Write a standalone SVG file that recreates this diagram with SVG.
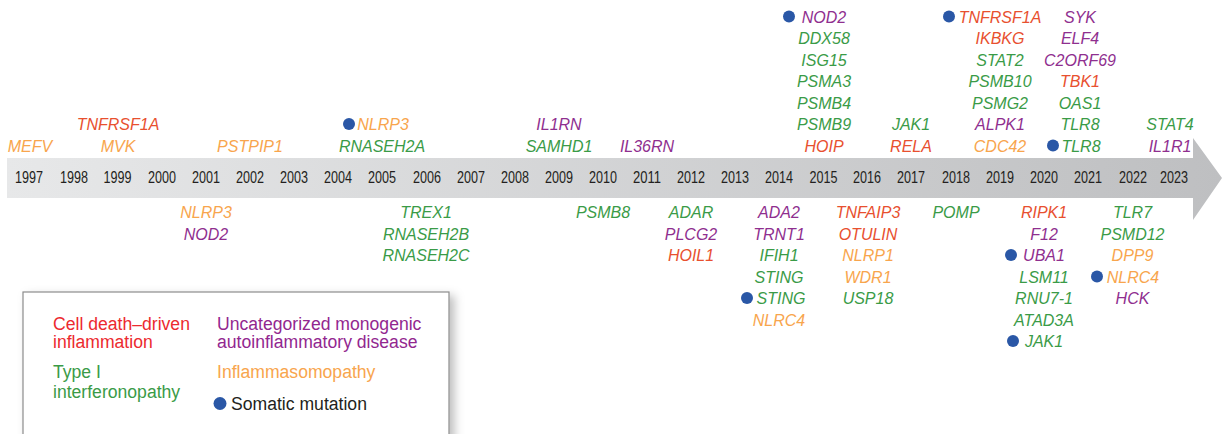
<svg xmlns="http://www.w3.org/2000/svg" width="1225" height="434" viewBox="0 0 1225 434">
<defs>
<linearGradient id="band" x1="0" y1="0" x2="1" y2="0">
<stop offset="0" stop-color="#e7e8e9"/>
<stop offset="1" stop-color="#bebfc1"/>
</linearGradient>
<filter id="shadow" x="-10%" y="-10%" width="130%" height="140%">
<feDropShadow dx="5" dy="4" stdDeviation="5" flood-color="#000" flood-opacity="0.25"/>
</filter>
<style>
.yr{font-family:"Liberation Sans",Arial,sans-serif;font-size:16.5px;fill:#231f20;text-anchor:middle}
.g{font-family:"Liberation Sans",Arial,sans-serif;font-size:16px;font-style:italic;text-anchor:middle}
.R{fill:#e8502f}.O{fill:#f8a54d}.G{fill:#3a9b47}.P{fill:#8f2f8f}
.dot{fill:#2a57a6}
.lg{font-family:"Liberation Sans",Arial,sans-serif;font-size:17.6px}
</style>
</defs>
<rect width="1225" height="434" fill="#ffffff"/>
<g id="timeline-arrow">
<path d="M7,158 H1193 V138 L1222,178 L1193,220 V198 H7 Z" fill="url(#band)"/>
</g>
<g id="years">
<text class="yr" x="29" y="183" textLength="28" lengthAdjust="spacingAndGlyphs">1997</text>
<text class="yr" x="74" y="183" textLength="28" lengthAdjust="spacingAndGlyphs">1998</text>
<text class="yr" x="117.5" y="183" textLength="28" lengthAdjust="spacingAndGlyphs">1999</text>
<text class="yr" x="162" y="183" textLength="28" lengthAdjust="spacingAndGlyphs">2000</text>
<text class="yr" x="206" y="183" textLength="28" lengthAdjust="spacingAndGlyphs">2001</text>
<text class="yr" x="250" y="183" textLength="28" lengthAdjust="spacingAndGlyphs">2002</text>
<text class="yr" x="294" y="183" textLength="28" lengthAdjust="spacingAndGlyphs">2003</text>
<text class="yr" x="338" y="183" textLength="28" lengthAdjust="spacingAndGlyphs">2004</text>
<text class="yr" x="382" y="183" textLength="28" lengthAdjust="spacingAndGlyphs">2005</text>
<text class="yr" x="427" y="183" textLength="28" lengthAdjust="spacingAndGlyphs">2006</text>
<text class="yr" x="471" y="183" textLength="28" lengthAdjust="spacingAndGlyphs">2007</text>
<text class="yr" x="515" y="183" textLength="28" lengthAdjust="spacingAndGlyphs">2008</text>
<text class="yr" x="559" y="183" textLength="28" lengthAdjust="spacingAndGlyphs">2009</text>
<text class="yr" x="603" y="183" textLength="28" lengthAdjust="spacingAndGlyphs">2010</text>
<text class="yr" x="647" y="183" textLength="28" lengthAdjust="spacingAndGlyphs">2011</text>
<text class="yr" x="691" y="183" textLength="28" lengthAdjust="spacingAndGlyphs">2012</text>
<text class="yr" x="735" y="183" textLength="28" lengthAdjust="spacingAndGlyphs">2013</text>
<text class="yr" x="779" y="183" textLength="28" lengthAdjust="spacingAndGlyphs">2014</text>
<text class="yr" x="823.5" y="183" textLength="28" lengthAdjust="spacingAndGlyphs">2015</text>
<text class="yr" x="867" y="183" textLength="28" lengthAdjust="spacingAndGlyphs">2016</text>
<text class="yr" x="911" y="183" textLength="28" lengthAdjust="spacingAndGlyphs">2017</text>
<text class="yr" x="956" y="183" textLength="28" lengthAdjust="spacingAndGlyphs">2018</text>
<text class="yr" x="1000" y="183" textLength="28" lengthAdjust="spacingAndGlyphs">2019</text>
<text class="yr" x="1044" y="183" textLength="28" lengthAdjust="spacingAndGlyphs">2020</text>
<text class="yr" x="1088" y="183" textLength="28" lengthAdjust="spacingAndGlyphs">2021</text>
<text class="yr" x="1133" y="183" textLength="28" lengthAdjust="spacingAndGlyphs">2022</text>
<text class="yr" x="1174" y="183" textLength="28" lengthAdjust="spacingAndGlyphs">2023</text>
</g>
<g id="connectors"/>
<!-- Upper columns -->
<g id="up-1997">
<text class="g O" x="30" y="151.5">MEFV</text>
</g>
<g id="up-1999">
<text class="g R" x="118" y="130">TNFRSF1A</text>
<text class="g O" x="118" y="151.5">MVK</text>
</g>
<g id="up-2002">
<text class="g O" x="250" y="151.5">PSTPIP1</text>
</g>
<g id="up-2005">
<circle class="dot" cx="349" cy="124" r="6"/>
<text class="g O" x="383" y="130">NLRP3</text>
<text class="g G" x="382" y="151.5">RNASEH2A</text>
</g>
<g id="up-2009">
<text class="g P" x="559" y="130">IL1RN</text>
<text class="g G" x="559" y="151.5">SAMHD1</text>
</g>
<g id="up-2011">
<text class="g P" x="647" y="151.5">IL36RN</text>
</g>
<g id="up-2015">
<circle class="dot" cx="789" cy="16.5" r="6"/>
<text class="g P" x="824" y="22.5">NOD2</text>
<text class="g G" x="824" y="44">DDX58</text>
<text class="g G" x="824" y="65.5">ISG15</text>
<text class="g G" x="824" y="87">PSMA3</text>
<text class="g G" x="824" y="108.5">PSMB4</text>
<text class="g G" x="824" y="130">PSMB9</text>
<text class="g R" x="824" y="151.5">HOIP</text>
</g>
<g id="up-2017">
<text class="g G" x="911" y="130">JAK1</text>
<text class="g R" x="911" y="151.5">RELA</text>
</g>
<g id="up-2019">
<circle class="dot" cx="949" cy="16.5" r="6"/>
<text class="g R" x="1000" y="22.5">TNFRSF1A</text>
<text class="g R" x="1000" y="44">IKBKG</text>
<text class="g G" x="1000" y="65.5">STAT2</text>
<text class="g G" x="1000" y="87">PSMB10</text>
<text class="g G" x="1000" y="108.5">PSMG2</text>
<text class="g P" x="1000" y="130">ALPK1</text>
<text class="g O" x="1000" y="151.5">CDC42</text>
</g>
<g id="up-2021">
<text class="g P" x="1080" y="22.5">SYK</text>
<text class="g P" x="1080" y="44">ELF4</text>
<text class="g P" x="1080" y="65.5">C2ORF69</text>
<text class="g R" x="1080" y="87">TBK1</text>
<text class="g G" x="1080" y="108.5">OAS1</text>
<text class="g G" x="1080" y="130">TLR8</text>
<circle class="dot" cx="1053" cy="145.5" r="6"/>
<text class="g G" x="1081" y="151.5">TLR8</text>
</g>
<g id="up-2023">
<text class="g G" x="1170" y="130">STAT4</text>
<text class="g P" x="1170" y="151.5">IL1R1</text>
</g>
<!-- Lower columns -->
<g id="down-2001">
<text class="g O" x="206" y="218">NLRP3</text>
<text class="g P" x="206" y="239.5">NOD2</text>
</g>
<g id="down-2006">
<text class="g G" x="426" y="218">TREX1</text>
<text class="g G" x="426" y="239.5">RNASEH2B</text>
<text class="g G" x="426" y="261">RNASEH2C</text>
</g>
<g id="down-2010">
<text class="g G" x="603" y="218">PSMB8</text>
</g>
<g id="down-2012">
<text class="g G" x="691" y="218">ADAR</text>
<text class="g P" x="691" y="239.5">PLCG2</text>
<text class="g R" x="691" y="261">HOIL1</text>
</g>
<g id="down-2014">
<text class="g P" x="779" y="218">ADA2</text>
<text class="g P" x="779" y="239.5">TRNT1</text>
<text class="g G" x="779" y="261">IFIH1</text>
<text class="g G" x="779" y="282.5">STING</text>
<circle class="dot" cx="747" cy="298" r="6"/>
<text class="g G" x="781" y="304">STING</text>
<text class="g O" x="779" y="325.5">NLRC4</text>
</g>
<g id="down-2016">
<text class="g R" x="868" y="218">TNFAIP3</text>
<text class="g R" x="868" y="239.5">OTULIN</text>
<text class="g O" x="868" y="261">NLRP1</text>
<text class="g O" x="868" y="282.5">WDR1</text>
<text class="g G" x="868" y="304">USP18</text>
</g>
<g id="down-2018">
<text class="g G" x="956" y="218">POMP</text>
</g>
<g id="down-2020">
<text class="g R" x="1044" y="218">RIPK1</text>
<text class="g P" x="1044" y="239.5">F12</text>
<circle class="dot" cx="1011" cy="255" r="6"/>
<text class="g P" x="1044" y="261">UBA1</text>
<text class="g G" x="1044" y="282.5">LSM11</text>
<text class="g G" x="1044" y="304">RNU7-1</text>
<text class="g G" x="1044" y="325.5">ATAD3A</text>
<circle class="dot" cx="1013" cy="341" r="6"/>
<text class="g G" x="1044" y="347">JAK1</text>
</g>
<g id="down-2022">
<text class="g G" x="1132.5" y="218">TLR7</text>
<text class="g G" x="1132.5" y="239.5">PSMD12</text>
<text class="g O" x="1132.5" y="261">DPP9</text>
<circle class="dot" cx="1097" cy="276.5" r="6"/>
<text class="g O" x="1133" y="282.5">NLRC4</text>
<text class="g P" x="1132.5" y="304">HCK</text>
</g>
<!-- Legend -->
<g id="legend">
<rect x="23" y="292" width="426" height="160" fill="#ffffff" stroke="#8c8c8c" stroke-width="1.2" filter="url(#shadow)"/>
<text class="lg" x="53" y="330" fill="#ec2a2f">Cell death–driven</text>
<text class="lg" x="53" y="348" fill="#ec2a2f">inflammation</text>
<text class="lg" x="217" y="330" fill="#92278f">Uncategorized monogenic</text>
<text class="lg" x="217" y="348" fill="#92278f">autoinflammatory disease</text>
<text class="lg" x="53" y="378" fill="#3a9b47">Type I</text>
<text class="lg" x="53" y="398" fill="#3a9b47">interferonopathy</text>
<text class="lg" x="217" y="378" fill="#f8a54d">Inflammasomopathy</text>
<circle class="dot" cx="220" cy="403.5" r="6.5"/>
<text class="lg" x="231" y="410" fill="#231f20">Somatic mutation</text>
</g>
</svg>
